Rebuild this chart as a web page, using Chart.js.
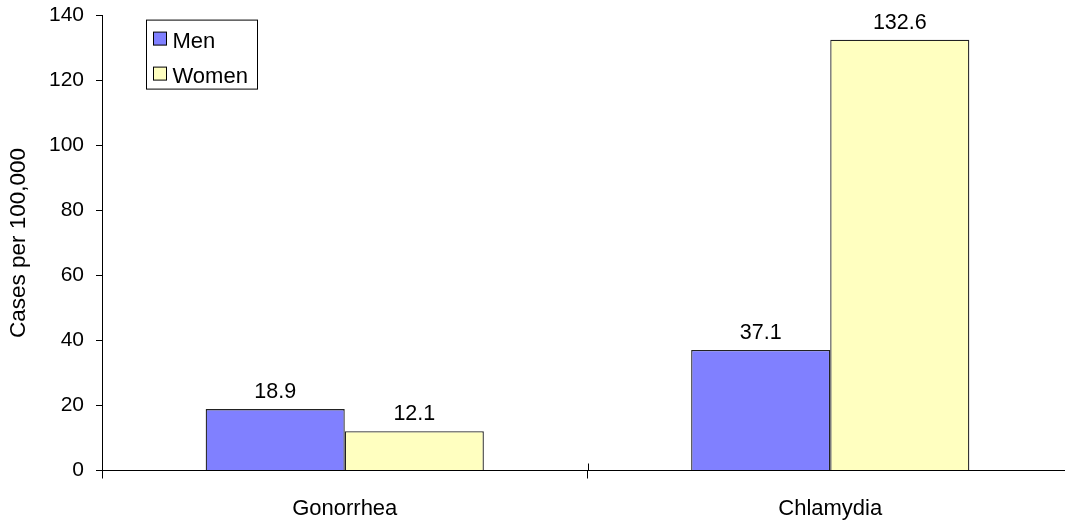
<!DOCTYPE html>
<html>
<head>
<meta charset="UTF-8">
<script src="https://cdn.jsdelivr.net/npm/chart.js"></script>
<style>
  html, body { margin: 0; padding: 0; background: #fff; overflow: hidden; }
  #wrap { position: relative; width: 1073px; height: 534px; margin-top: -9px; }
</style>
</head>
<body>
<div id="wrap"><canvas id="chart"></canvas></div>
<script>
const categories = ['Gonorrhea', 'Chlamydia'];
const menValues = [18.9, 37.1];
const womenValues = [12.1, 132.6];
const seriesNames = ['Men', 'Women'];
const yTitle = 'Cases per 100,000';

const FONT = 'Arial, "Liberation Sans", sans-serif';

// value labels above each bar
const valueLabels = {
  id: 'valueLabels',
  afterDatasetsDraw(chart) {
    const ctx = chart.ctx;
    ctx.save();
    ctx.font = '21.5px ' + FONT;
    ctx.fillStyle = '#000';
    ctx.textAlign = 'center';
    ctx.textBaseline = 'alphabetic';
    chart.data.datasets.forEach((ds, i) => {
      chart.getDatasetMeta(i).data.forEach((bar, j) => {
        ctx.fillText(ds.data[j].toFixed(1), bar.x, bar.y - 11);
      });
    });
    ctx.restore();
  }
};

// category ticks crossing the x axis + boxed legend inside the plot
const extras = {
  id: 'extras',
  afterDraw(chart) {
    const ctx = chart.ctx;
    const area = chart.chartArea;
    const xs = chart.scales.x;
    ctx.save();
    ctx.strokeStyle = '#000';
    ctx.lineWidth = 1;
    for (let i = 1; i < categories.length; i++) {
      const x = Math.round((xs.getPixelForValue(i - 1) + xs.getPixelForValue(i)) / 2) + 0.5;
      ctx.beginPath();
      ctx.moveTo(x, area.bottom - 7);
      ctx.lineTo(x, area.bottom);
      ctx.stroke();
    }

    // legend
    const lx = area.left + 44.5, ly = area.top + 4.5;
    ctx.fillStyle = '#fff';
    ctx.fillRect(lx, ly, 111, 69);
    ctx.strokeRect(lx, ly, 111, 69);
    ctx.font = '22px ' + FONT;
    ctx.textAlign = 'left';
    ctx.textBaseline = 'alphabetic';
    chart.data.datasets.forEach((ds, i) => {
      const sy = ly + 12 + i * 35;
      ctx.fillStyle = ds.backgroundColor;
      ctx.fillRect(lx + 7, sy, 13, 13);
      ctx.strokeStyle = '#000';
      ctx.strokeRect(lx + 7, sy, 13, 13);
      ctx.fillStyle = '#000';
      ctx.fillText(ds.label, lx + 26, sy + 16);
    });
    ctx.restore();
  }
};

new Chart(document.getElementById('chart'), {
  type: 'bar',
  data: {
    labels: categories,
    datasets: [
      { label: seriesNames[0], data: menValues, backgroundColor: '#8080FF', borderColor: '#222', borderWidth: 1.3 },
      { label: seriesNames[1], data: womenValues, backgroundColor: '#FFFFC0', borderColor: '#222', borderWidth: 1.3 }
    ]
  },
  options: {
    responsive: true,
    maintainAspectRatio: false,
    animation: false,
    layout: { padding: { top: 6, right: 0, left: 0, bottom: 0 } },
    plugins: {
      legend: { display: false },
      tooltip: { enabled: false }
    },
    datasets: {
      bar: { categoryPercentage: 0.573, barPercentage: 1 }
    },
    scales: {
      x: {
        grid: { display: true, offset: true, drawOnChartArea: false, drawTicks: true, tickLength: 8, color: '#000' },
        border: { display: true, color: '#000', width: 1 },
        ticks: { color: '#000', font: { size: 22, family: FONT }, padding: 17, maxRotation: 0 },
        afterFit(scale) { scale.height = 54.5; }
      },
      y: {
        min: 0,
        max: 140,
        ticks: { stepSize: 20, color: '#000', font: { size: 21, family: FONT }, padding: 12 },
        grid: { display: true, drawOnChartArea: false, drawTicks: true, tickLength: 6, color: '#000' },
        border: { display: true, color: '#000', width: 1 },
        title: { display: true, text: yTitle, color: '#000', font: { size: 22.5, family: FONT }, padding: { top: 5, bottom: 0 } },
        afterFit(scale) { scale.width = 102; }
      }
    }
  },
  plugins: [valueLabels, extras]
});
</script>
</body>
</html>
